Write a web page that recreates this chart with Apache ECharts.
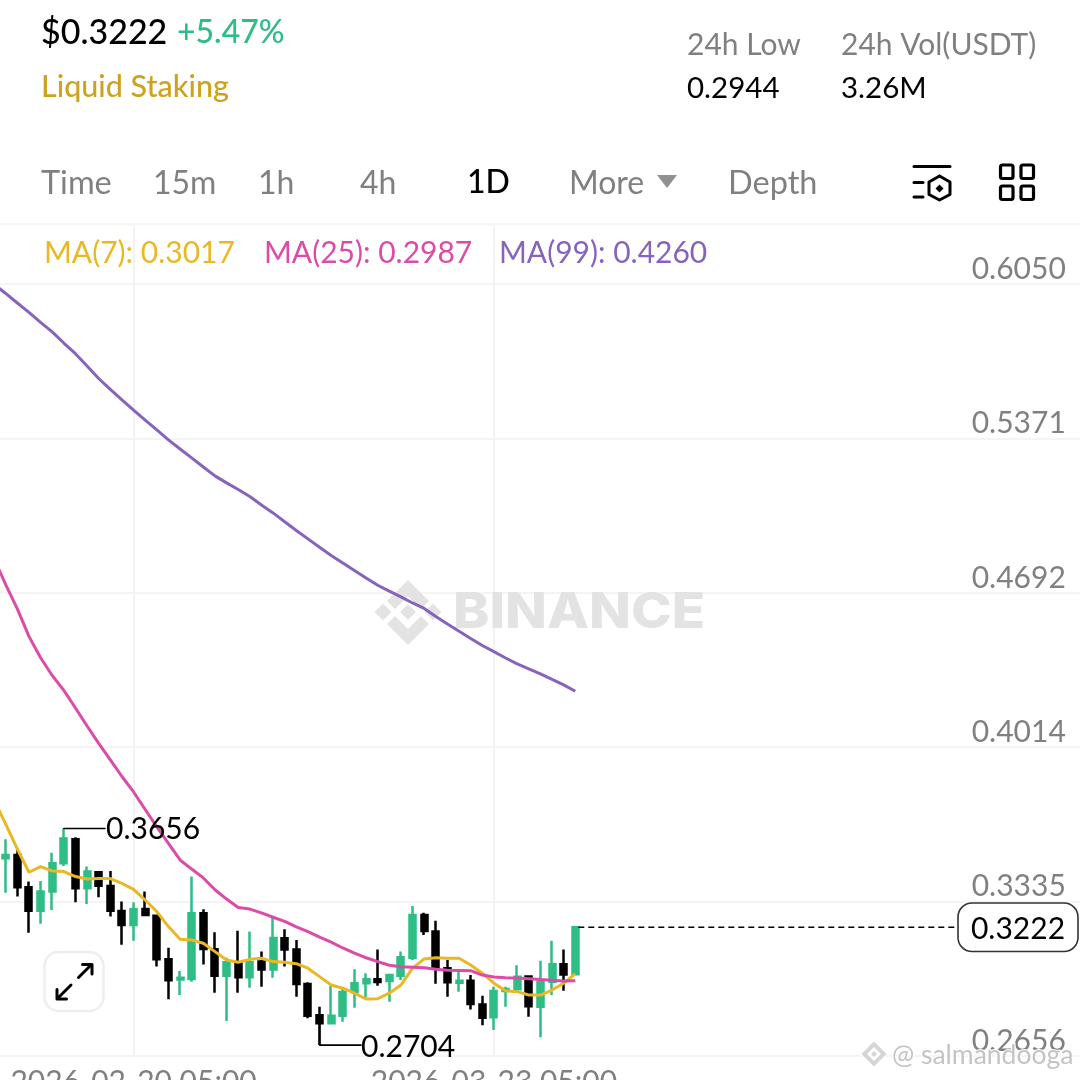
<!DOCTYPE html>
<html>
<head>
<meta charset="utf-8">
<style>html,body{margin:0;padding:0;background:#fff}#c{width:1080px;height:1080px}</style>
<script src="https://cdn.jsdelivr.net/npm/echarts@6/dist/echarts.min.js"></script>
</head>
<body>
<div id="c"></div>
<script>
const opens = [.3525,.3540,.3398,.3295,.3379,.3503,.3609,.3394,.3464,.3404,
.3294,.3232,.3302,.3273,.3081,.2992,.2995,.3284,.3125,.3009,
.3068,.3002,.3071,.3036,.3174,.3124,.2973,.2835,.2800,.2833,
.2937,.2976,.2993,.2986,.3009,.3088,.3276,.3203,.3042,.2978,
.2987,.2883,.2826,.2942,.2949,.3006,.2873,.2983,.3059,.3015];
const closes = [.3540,.3398,.3295,.3379,.3503,.3612,.3394,.3467,.3405,.3295,
.3232,.3301,.3276,.3081,.2989,.3000,.3284,.3127,.3009,.3068,
.3002,.3068,.3036,.3175,.3124,.2973,.2833,.2800,.2833,.2937,
.2976,.2993,.2981,.3012,.3090,.3276,.3206,.3042,.2980,.2987,
.2885,.2824,.2942,.2951,.3005,.2875,.2983,.3059,.3014,.3222];
const lows = [.3374,.3357,.3198,.3237,.3298,.3492,.3332,.3324,.3354,.3269,
.3145,.3163,.3276,.3049,.2905,.2924,.2983,.3058,.2934,.2810,
.2934,.2956,.2961,.3000,.3049,.2917,.2822,.2704,.2800,.2807,
.2868,.2910,.2965,.2895,.2990,.3078,.3188,.2974,.2917,.2939,
.2861,.2791,.2770,.2873,.2939,.2829,.2738,.2924,.2943,.3012];
const highs = [.3609,.3562,.3423,.3426,.3550,.3656,.3618,.3489,.3467,.3470,
.3335,.3332,.3379,.3276,.3132,.3030,.3445,.3301,.3200,.3088,
.3207,.3203,.3115,.3269,.3213,.3166,.2980,.2873,.2964,.2958,
.3037,.3020,.3124,.3015,.3116,.3316,.3286,.3251,.3078,.3027,
.3012,.2921,.2961,.2961,.3055,.3009,.3075,.3163,.3124,.3225];
// moving averages start one day before the first visible candle
const ma7 = [.3782,.3676,.3566,.3464,.3489,.3470,.3467,.3445,.3434,.3436,.3436,
.3415,.3389,.3342,.3291,.3225,.3169,.3166,.3152,.3115,.3078,
.3068,.3081,.3086,.3071,.3068,.3062,.3042,.3005,.2968,.2954,
.2932,.2907,.2908,.2932,.2968,.3042,.3083,.3088,.3086,.3086,
.3056,.3020,.2976,.2943,.2939,.2924,.2924,.2946,.2976,.3017];
const ma25 = [.4842,.4729,.4622,.4501,.4407,.4329,.4264,.4186,.4107,.4031,.3958,
.3885,.3817,.3740,.3663,.3591,.3518,.3478,.3439,.3387,.3346,
.3309,.3302,.3285,.3266,.3248,.3224,.3203,.3179,.3157,.3131,
.3108,.3088,.3071,.3055,.3048,.3046,.3044,.3037,.3033,.3032,
.3031,.3012,.3003,.3000,.2999,.2996,.2992,.2989,.2986,.2987];
const ma99 = [.6049,.6009,.5967,.5926,.5882,.5840,.5791,.5744,.5690,.5635,.5587,
.5541,.5496,.5452,.5409,.5365,.5325,.5286,.5246,.5207,.5176,
.5147,.5116,.5079,.5044,.5005,.4967,.4930,.4893,.4857,.4824,
.4791,.4758,.4726,.4700,.4675,.4648,.4624,.4589,.4556,.4524,
.4492,.4461,.4434,.4406,.4380,.4358,.4336,.4312,.4288,.4260];
const yTicks = [.2656,.3335,.4014,.4692,.5371,.6050];
const xTickLabels = ['2026-02-20 05:00','2026-03-23 05:00'];
const highMark = 0.3656, highIdx = 6;
const lowMark = 0.2704, lowIdx = 28;
const lastPrice = 0.3222, lastIdx = 50;

const FONT = 'Lato';
const categories = [];
for (let i = 0; i < 95; i++) {
  const d = new Date(Date.UTC(2026, 1, 8 + i));
  categories.push(d.toISOString().slice(0, 10) + ' 05:00');
}
const candles = ['-'].concat(opens.map((o, i) => [o, closes[i], lows[i], highs[i]]));
const isXTick = (i) => xTickLabels.indexOf(categories[i]) >= 0;

const chart = echarts.init(document.getElementById('c'), null, {renderer: 'canvas', width: 1080, height: 1080});
const maLine = (name, data, color) => ({
  name, type: 'line', data, showSymbol: false, symbol: 'none', smooth: false, z: 5,
  lineStyle: {color, width: 3}, silent: true
});
chart.setOption({
  animation: false,
  backgroundColor: '#fff',
  grid: {left: -5.92, top: 225, width: 1092.7, height: 831, containLabel: false, outerBoundsMode: 'none'},
  xAxis: {
    type: 'category', data: categories, boundaryGap: false,
    axisLine: {show: false}, axisTick: {show: false},
    axisLabel: {show: false},
    splitLine: {show: true, interval: (i) => isXTick(i), lineStyle: {color: '#f2f2f2', width: 2}}
  },
  yAxis: {
    type: 'value', position: 'right', min: 0.2656, max: 0.6310, scale: true,
    axisLine: {show: false},
    axisTick: {show: false, customValues: yTicks},
    axisLabel: {inside: true, customValues: yTicks, margin: 21, align: 'right', verticalAlign: 'bottom', fontFamily: FONT, fontSize: 30, color: '#808080',
      formatter: (v) => v.toFixed(4), showMinLabel: true, showMaxLabel: true},
    splitLine: {show: true, lineStyle: {color: '#f0f0f0', width: 1.5}}
  },
  series: [
    {type: 'candlestick', data: candles, barWidth: 6.5, z: 3,
     itemStyle: {color: '#2EBD85', color0: '#000', borderColor: '#2EBD85', borderColor0: '#000', borderWidth: 2.5}},
    maLine('MA(7)', ma7, '#E9B824'),
    maLine('MA(25)', ma25, '#DC4BA7'),
    maLine('MA(99)', ma99, '#8763BB')
  ]
});

const px = (i, v) => chart.convertToPixel({gridIndex: 0}, [i, v]);
const txt = (x, y, text, size, fill, weight, extra) => Object.assign({
  type: 'text', x, y, z: 20,
  style: Object.assign({text, fontFamily: FONT, fontSize: size, fill, fontWeight: weight || 400, textAlign: 'left', textVerticalAlign: 'middle'}, extra || {})
});
const seg = (x1, y1, x2, y2, stroke, lineWidth, extra) => ({
  type: 'line', z: 20, shape: {x1, y1, x2, y2},
  style: Object.assign({stroke, lineWidth, lineCap: 'round'}, extra || {})
});
const poly = (points, fill, z) => ({type: 'polygon', z: z === undefined ? 1 : z, silent: true, shape: {points}, style: {fill}});
const pline = (points, stroke, lineWidth) => ({type: 'polyline', z: 20, shape: {points}, style: {stroke, lineWidth, fill: 'none', lineJoin: 'round', lineCap: 'round'}});

const hi = px(highIdx, highMark), lo = px(lowIdx, lowMark), last = px(lastIdx, lastPrice);
const WM = '#e3e3e3';
const cx = 408, cy = 612;
const diamond = (x, y, r, f, z) => poly([[x, y - r], [x + r, y], [x, y + r], [x - r, y]], f, z);
const elements = [
  {type: 'rect', z: 10, shape: {x: 0, y: 223, width: 1080, height: 2.5}, style: {fill: '#f5f5f5'}},
  diamond(cx, cy, 8, WM), diamond(cx - 25, cy, 8.5, WM), diamond(cx + 25, cy, 8.5, WM),
  poly([[cx, cy - 32], [cx + 21, cy - 11], [cx + 13, cy - 3], [cx, cy - 16], [cx - 13, cy - 3], [cx - 21, cy - 11]], WM),
  poly([[cx, cy + 33], [cx + 21, cy + 12], [cx + 13, cy + 4], [cx, cy + 17], [cx - 13, cy + 4], [cx - 21, cy + 12]], WM),
  {type: 'text', z: 1, x: 453, y: 613, scaleX: 1.095, silent: true, style: {text: 'BINANCE', fontFamily: 'Inter', fontWeight: 800, fontSize: 50, fill: WM, textAlign: 'left', textVerticalAlign: 'middle'}},
  txt(41, 33, '$0.3222', 34, '#000', 500),
  txt(177, 33, '+5.47%', 32, '#2EBD85', 500),
  txt(41, 87, 'Liquid Staking', 30.5, '#CFA21D', 500),
  txt(687, 45, '24h Low', 30, '#808080'),
  txt(687, 88, '0.2944', 29.5, '#000'),
  txt(841, 45, '24h Vol(USDT)', 30, '#808080'),
  txt(841, 88, '3.26M', 29.5, '#000'),
  txt(41, 184, 'Time', 32.5, '#808080'),
  txt(153, 184, '15m', 32, '#808080'),
  txt(258, 184, '1h', 32, '#808080'),
  txt(360, 184, '4h', 32, '#808080'),
  txt(467, 183, '1D', 32, '#000', 500),
  txt(569, 184, 'More', 32, '#808080'),
  poly([[657, 175], [677, 175], [667, 188]], '#919191', 20),
  txt(728, 184, 'Depth', 32.5, '#808080'),
  seg(914, 166.5, 950, 166.5, '#000', 3),
  seg(914, 182.5, 923, 182.5, '#000', 3),
  seg(914, 197, 923, 197, '#000', 3),
  pline([[939.5, 176], [950, 182], [950, 194.5], [939.5, 200], [929, 194.5], [929, 182], [939.5, 176]], '#000', 3),
  diamond(939.5, 188.5, 4, '#000', 20),
  {type: 'rect', z: 20, shape: {x: 1000.5, y: 165, width: 12.5, height: 13.5, r: 2}, style: {fill: 'none', stroke: '#000', lineWidth: 3.2}},
  {type: 'rect', z: 20, shape: {x: 1021, y: 165, width: 12.5, height: 13.5, r: 2}, style: {fill: 'none', stroke: '#000', lineWidth: 3.2}},
  {type: 'rect', z: 20, shape: {x: 1000.5, y: 186, width: 12.5, height: 13.5, r: 2}, style: {fill: 'none', stroke: '#000', lineWidth: 3.2}},
  {type: 'rect', z: 20, shape: {x: 1021, y: 186, width: 12.5, height: 13.5, r: 2}, style: {fill: 'none', stroke: '#000', lineWidth: 3.2}},
  txt(44, 253, 'MA(7): 0.3017', 30, '#E9B824'),
  txt(264, 253, 'MA(25): 0.2987', 30, '#DC4BA7'),
  txt(499, 253, 'MA(99): 0.4260', 30, '#8763BB'),
  seg(hi[0], hi[1], 105, hi[1], '#000', 1.5),
  txt(106, hi[1] + 1, '0.3656', 30, '#000'),
  pline([[lo[0], lo[1] - 25], [lo[0], lo[1]], [361, lo[1]]], '#000', 1.6),
  txt(361, lo[1] + 2, '0.2704', 30, '#000'),
  seg(last[0] + 3, last[1], 958, last[1], '#000', 1.4, {lineDash: [6, 4], lineCap: 'butt'}),
  {type: 'rect', z: 20, shape: {x: 958, y: 903, width: 120, height: 48.5, r: 14}, style: {fill: '#fff', stroke: '#333', lineWidth: 1.6}},
  txt(1018, 929, '0.3222', 30, '#000', 400, {textAlign: 'center'}),
  {type: 'rect', z: 20, shape: {x: 44.5, y: 952, width: 59, height: 59, r: 14}, style: {fill: '#fff', stroke: '#eeeeee', lineWidth: 2.5}},
  seg(58, 998, 71, 985, '#000', 3),
  seg(78.5, 977.5, 91, 965, '#000', 3),
  pline([[82.5, 964.5], [92, 964.5], [92, 974]], '#000', 3),
  pline([[57, 989.5], [57, 999], [66.5, 999]], '#000', 3),
  diamond(874, 1054, 14, '#fff', 15),
  diamond(874, 1054, 12.5, '#d5d5d5', 15),
  diamond(874, 1054, 7, '#fff', 15),
  diamond(874, 1054, 3, '#d5d5d5', 15),
  txt(892, 1055, '@ salmandooga', 26.5, '#c4c4c4', 400, {stroke: '#fff', lineWidth: 2})
];
// date labels under the ticks, placed through the category scale
xTickLabels.forEach((label) => {
  const p = px(categories.indexOf(label), yTicks[0]);
  elements.push(txt(p[0], 1082, label, 30, '#808080', 400, {textAlign: 'center'}));
});
chart.setOption({graphic: {elements}});
</script>
</body>
</html>
